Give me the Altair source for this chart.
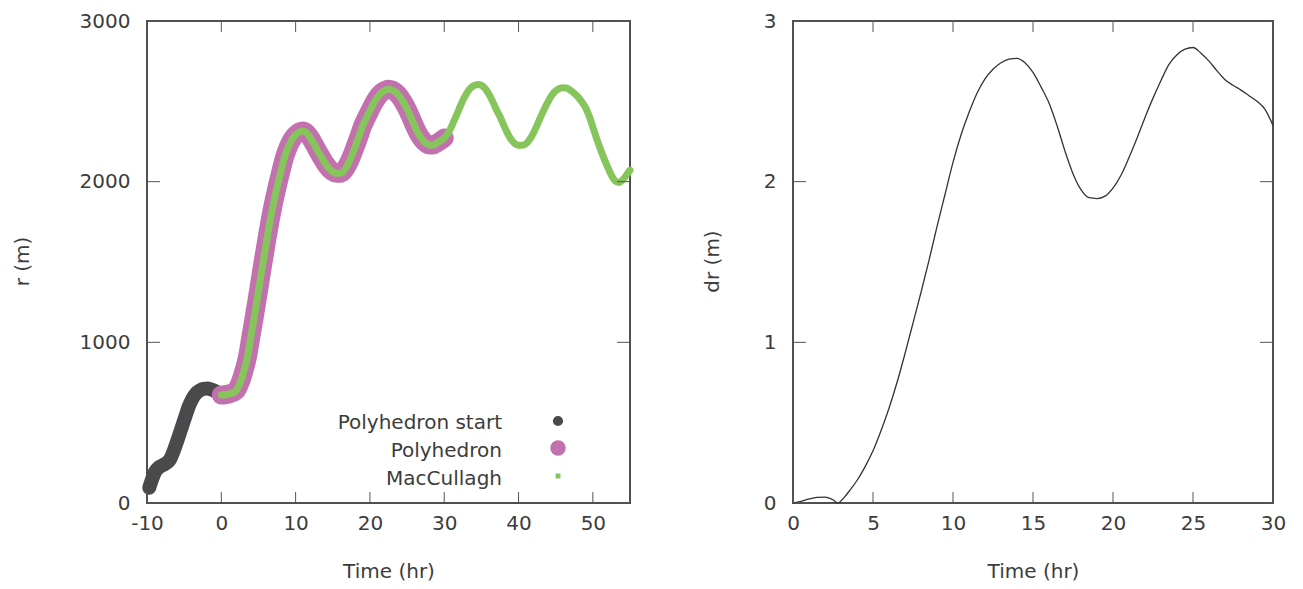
import altair as alt
import pandas as pd

# ---------------- data ----------------
start_t = [-9.7, -9.3, -8.9, -8.4, -7.9, -7.4, -6.9, -6.4, -5.9, -5.4,
           -4.9, -4.4, -3.9, -3.4, -2.9, -2.4, -1.9, -1.4, -0.9, -0.5]
start_r = [95, 150, 195, 222, 235, 248, 272, 325, 390, 460,
           530, 598, 648, 682, 700, 710, 712, 707, 698, 688]

poly_t = [0, 0.5, 1, 1.5, 2, 2.5, 3, 3.5, 4, 4.5, 5, 5.5, 6, 6.5, 7, 7.5, 8, 8.5, 9, 9.5,
          10, 10.5, 11, 11.5, 12, 12.5, 13, 13.5, 14, 14.5, 15, 15.5, 16, 16.5, 17, 17.5,
          18, 18.5, 19, 19.5, 20, 20.5, 21, 21.5, 22, 22.5, 23, 23.5, 24, 24.5, 25, 25.5,
          26, 26.5, 27, 27.5, 28, 28.5, 29, 29.5, 30]
poly_r = [672, 674, 678, 686, 700, 745, 815, 905, 1040, 1175, 1320, 1465, 1605, 1740, 1860,
          1965, 2060, 2150, 2215, 2262, 2292, 2310, 2315, 2302, 2272, 2232, 2190, 2150, 2112,
          2082, 2062, 2052, 2052, 2068, 2105, 2155, 2215, 2278, 2345, 2395, 2442, 2488, 2525,
          2552, 2568, 2575, 2570, 2555, 2530, 2495, 2452, 2402, 2348, 2300, 2265, 2240, 2228,
          2228, 2240, 2255, 2272]

mac_t = poly_t + [30.5, 31, 31.5, 32, 32.5, 33, 33.5, 34, 34.5, 35, 35.5, 36, 36.5, 37, 37.5,
                  38, 38.5, 39, 39.5, 40, 40.5, 41, 41.5, 42, 42.5, 43, 43.5, 44, 44.5, 45,
                  45.5, 46, 46.5, 47, 47.5, 48, 48.5, 49, 49.5, 50, 50.5, 51, 51.5, 52, 52.5,
                  53, 53.5, 54, 54.5, 55]
mac_r = poly_r + [2300, 2345, 2398, 2452, 2505, 2548, 2580, 2598, 2605, 2600, 2580, 2545, 2500,
                  2450, 2405, 2352, 2302, 2262, 2237, 2227, 2226, 2236, 2262, 2302, 2352, 2405,
                  2455, 2500, 2540, 2565, 2580, 2585, 2582, 2568, 2550, 2528, 2498, 2462, 2408,
                  2340, 2270, 2205, 2145, 2090, 2040, 2005, 1995, 2010, 2040, 2072]

dr_t = [0, 0.5, 1, 1.5, 2, 2.5, 2.8, 3.2, 3.6, 4, 4.5, 5, 5.5, 6, 6.5, 7, 7.5, 8, 8.5, 9, 9.5,
        10, 10.5, 11, 11.5, 12, 12.5, 13, 13.5, 14, 14.5, 15, 15.5, 16, 16.5, 17, 17.5, 18,
        18.5, 19, 19.5, 20, 20.5, 21, 21.5, 22, 22.5, 23, 23.5, 24, 24.5, 25, 25.5, 26, 26.5,
        27, 27.5, 28, 28.5, 29, 29.5, 30]
dr_v = [0.0, 0.01, 0.025, 0.035, 0.037, 0.02, 0.0, 0.035, 0.085, 0.14, 0.225, 0.325, 0.45, 0.59,
        0.75, 0.93, 1.12, 1.31, 1.51, 1.72, 1.92, 2.12, 2.29, 2.43, 2.55, 2.64, 2.70, 2.74,
        2.763, 2.768, 2.74, 2.68, 2.59, 2.49, 2.35, 2.19, 2.05, 1.95, 1.90, 1.895, 1.91, 1.96,
        2.04, 2.15, 2.27, 2.40, 2.52, 2.63, 2.73, 2.79, 2.825, 2.835, 2.80, 2.75, 2.69, 2.635,
        2.60, 2.57, 2.535, 2.50, 2.45, 2.35]

left_xticks = [-10, 0, 10, 20, 30, 40, 50]
left_yticks = [0, 1000, 2000, 3000]
right_xticks = [0, 5, 10, 15, 20, 25, 30]
right_yticks = [0, 1, 2, 3]

series_names = ["Polyhedron start", "Polyhedron", "MacCullagh"]
series_colors = ["#4a4a4c", "#c271ae", "#86c55b"]
series_widths = [14, 19, 7]

# ---------------- style ----------------
FONT = "DejaVu Sans"
FS = 20
TXT = "#3c3c3c"
TICK = "#555555"
W1, H = 483, 482
W2 = 480
PLAIN = "'' + datum.value"


def x_axis(values, title):
    return alt.Axis(values=values, title=title, labelPadding=10, labelExpr=PLAIN,
                    titleBaseline="alphabetic", titleY=74, titleAlign="center")


def y_axis(values, title, title_x):
    return alt.Axis(values=values, title=title, labelPadding=17, labelExpr=PLAIN,
                    titleAngle=270, titleBaseline="middle", titleAlign="center",
                    titleX=title_x, titleY=240)


df_left = pd.concat([
    pd.DataFrame({"t": start_t, "r": start_r, "series": series_names[0]}),
    pd.DataFrame({"t": poly_t, "r": poly_r, "series": series_names[1]}),
    pd.DataFrame({"t": mac_t, "r": mac_r, "series": series_names[2]}),
], ignore_index=True)

xL_scale = alt.Scale(domain=[-10, 55], nice=False, zero=False)
yL_scale = alt.Scale(domain=[0, 3000], nice=False)
xL_axis = x_axis(left_xticks, "Time (hr)")
yL_axis = y_axis(left_yticks, "r (m)", -125)

layers_left = []
for name, col, sw in zip(series_names, series_colors, series_widths):
    layers_left.append(
        alt.Chart(df_left).transform_filter(alt.datum.series == name)
        .mark_line(strokeWidth=sw, strokeCap="round", strokeJoin="round",
                   interpolate="monotone", color=col)
        .encode(
            x=alt.X("t:Q", scale=xL_scale, axis=xL_axis),
            y=alt.Y("r:Q", scale=yL_scale, axis=yL_axis),
            order="t:Q",
        )
    )


def tick_layers(xticks, yticks, xscale, yscale, xaxis, yaxis, w, h):
    dx = pd.DataFrame({"t": xticks})
    dy = pd.DataFrame({"v": yticks})
    out = []
    for y0, y1 in [(h - 11, h), (0, 11)]:
        out.append(alt.Chart(dx).mark_rule(color=TICK, strokeWidth=1).encode(
            x=alt.X("t:Q", scale=xscale, axis=xaxis),
            y=alt.value(y0), y2=alt.value(y1)))
    for x0, x1 in [(0, 13), (w - 13, w)]:
        out.append(alt.Chart(dy).mark_rule(color=TICK, strokeWidth=1).encode(
            y=alt.Y("v:Q", scale=yscale, axis=yaxis),
            x=alt.value(x0), x2=alt.value(x1)))
    return out


# legend (drawn as text + symbols)
leg_text_y = [408, 436, 464]
leg_sym_y = [400, 427, 455]
leg_sizes = [104, 240, 24]
leg_shapes = ["circle", "circle", "square"]
legend_layers = []
for name, col, ty, sy, sz, shp in zip(series_names, series_colors, leg_text_y,
                                     leg_sym_y, leg_sizes, leg_shapes):
    d = pd.DataFrame({"label": [name]})
    legend_layers.append(
        alt.Chart(d).mark_text(align="right", baseline="alphabetic", font=FONT,
                               fontSize=FS, color=TXT)
        .encode(x=alt.value(355), y=alt.value(ty), text="label:N"))
    legend_layers.append(
        alt.Chart(d).mark_point(shape=shp, filled=True, opacity=1, size=sz, color=col,
                                strokeWidth=0)
        .encode(x=alt.value(411), y=alt.value(sy)))

left = alt.layer(
    *layers_left,
    *tick_layers(left_xticks, left_yticks, xL_scale, yL_scale, xL_axis, yL_axis, W1, H),
    *legend_layers,
).properties(width=W1, height=H)

# right panel
df_right = pd.DataFrame({"t": dr_t, "dr": dr_v})
xR_scale = alt.Scale(domain=[0, 30], nice=False, zero=False)
yR_scale = alt.Scale(domain=[0, 3], nice=False)
xR_axis = x_axis(right_xticks, "Time (hr)")
yR_axis = y_axis(right_yticks, "dr (m)", -81)

right_line = alt.Chart(df_right).mark_line(color="#333333", strokeWidth=1.3,
                                           interpolate="monotone").encode(
    x=alt.X("t:Q", scale=xR_scale, axis=xR_axis),
    y=alt.Y("dr:Q", scale=yR_scale, axis=yR_axis),
    order="t:Q",
)

right = alt.layer(
    right_line,
    *tick_layers(right_xticks, right_yticks, xR_scale, yR_scale, xR_axis, yR_axis, W2, H),
).properties(width=W2, height=H)

chart = alt.hconcat(left, right, spacing=163, bounds="flush").properties(
    padding={"left": 3, "top": 2, "right": 0, "bottom": 0}
).configure_view(
    stroke="#505050", strokeWidth=2
).configure_axis(
    labelFont=FONT, labelFontSize=FS, labelColor=TXT,
    titleFont=FONT, titleFontSize=FS, titleColor=TXT, titleFontWeight="normal",
    domain=False, ticks=False, tickSize=0, grid=False, labelFlush=False,
).configure_concat(spacing=163)

chart.save("out.html", embed_options={"renderer": "svg", "actions": False})
